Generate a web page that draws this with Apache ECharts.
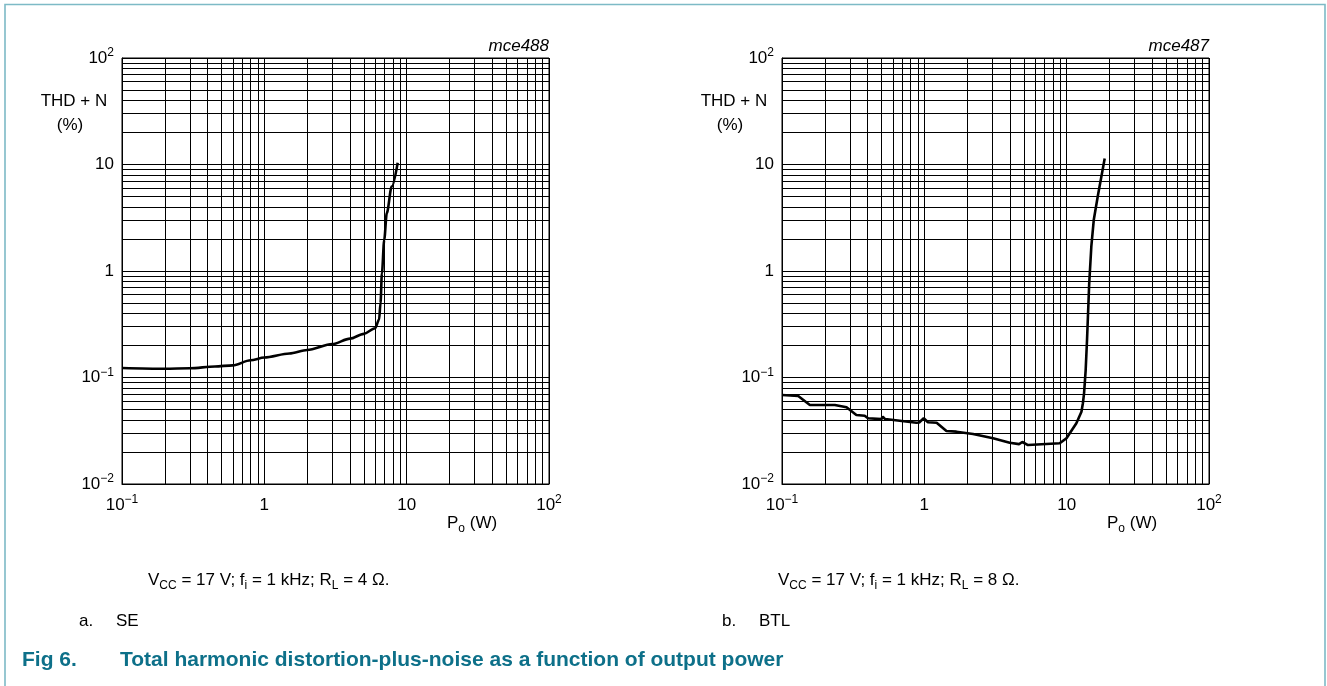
<!DOCTYPE html>
<html><head><meta charset="utf-8">
<script src="https://cdn.jsdelivr.net/npm/echarts/dist/echarts.min.js"></script>
<style>html,body{margin:0;padding:0;background:#fff}#c{width:1327px;height:686px}</style>
</head><body><div id="c"></div>
<script>
// ---- data ----
const seP   = [0.1, 0.2, 0.3, 0.45, 0.6, 0.8, 1, 1.5, 2, 3, 4, 5, 6, 6.4, 6.55, 6.7, 6.95, 7.25, 7.85, 8.65];
const seTHD = [0.123, 0.121, 0.122, 0.127, 0.13, 0.145, 0.154, 0.168, 0.181, 0.206, 0.232, 0.257, 0.29, 0.35, 0.5, 0.95, 1.95, 3.5, 6.2, 10.4];

const btlP   = [0.1, 0.13, 0.157, 0.235, 0.284, 0.333, 0.381, 0.402, 0.5, 0.51, 0.53, 0.672, 0.88, 0.92, 0.99, 1.06, 1.22, 1.43, 1.68, 2.2, 3.04, 3.98, 4.63, 4.88, 5.35, 8.94, 9.97, 11.7, 12.7, 13.0, 13.25, 13.6, 13.9, 14.4, 14.9, 15.5, 16.6, 18.5];
const btlTHD = [0.0686, 0.067, 0.0552, 0.0552, 0.0525, 0.0445, 0.0438, 0.0414, 0.0407, 0.043, 0.0407, 0.0393, 0.0376, 0.0378, 0.0414, 0.038, 0.0376, 0.0315, 0.031, 0.0295, 0.0269, 0.0244, 0.0237, 0.0248, 0.0232, 0.0241, 0.0269, 0.0372, 0.0477, 0.0573, 0.071, 0.1175, 0.225, 0.766, 1.69, 3.01, 5.17, 11.4];

const xTickExp    = [-1, 0, 1, 2];
const xTickLabels = ['10{sup|\u22121}', '1', '10', '10{sup|2}'];
const yTickExp    = [-2, -1, 0, 1, 2];
const yTickLabels = ['10{sup|\u22122}', '10{sup|\u22121}', '1', '10', '10{sup|2}'];

const minorX = [0.2,0.3,0.4,0.5,0.6,0.7,0.8,0.9, 2,3,4,5,6,7,8,9, 20,30,40,50,60,70,80,90];
const minorY = [0.02,0.03,0.04,0.05,0.06,0.07,0.08,0.09, 0.2,0.3,0.4,0.5,0.6,0.7,0.8,0.9, 2,3,4,5,6,7,8,9, 20,30,40,50,60,70,80,90];

// ---- chart ----
const FONT = "'Liberation Sans', Arial, Helvetica, sans-serif";
const FS = 17;
const richTick = {
  sup: { fontSize: 12, lineHeight: 12, verticalAlign: 'top', fontFamily: FONT, color: '#000' }
};
function fmtX(v) { const e = Math.round(Math.log10(v)); const i = xTickExp.indexOf(e); return i >= 0 ? xTickLabels[i] : ''; }
function fmtY(v) { const e = Math.round(Math.log10(v)); const i = yTickExp.indexOf(e); return i >= 0 ? yTickLabels[i] : ''; }

const grids = [
  { left: 122, top: 58, width: 427, height: 426, show: true, borderColor: '#000', borderWidth: 1, backgroundColor: 'transparent' },
  { left: 782, top: 58, width: 427, height: 426, show: true, borderColor: '#000', borderWidth: 1, backgroundColor: 'transparent' }
];
function xAx(g) {
  return {
    type: 'log', logBase: 10, min: 0.1, max: 100, gridIndex: g,
    axisLine: { show: true, lineStyle: { color: '#000', width: 1 } },
    axisTick: { show: false },
    splitLine: { show: true, lineStyle: { color: '#000', width: 1 } },
    axisLabel: { show: true, formatter: fmtX, color: '#000', fontSize: FS, fontFamily: FONT, margin: 10, lineHeight: 22, rich: richTick, showMinLabel: true, showMaxLabel: true }
  };
}
function yAx(g) {
  return {
    type: 'log', logBase: 10, min: 0.01, max: 100, gridIndex: g,
    axisLine: { show: true, lineStyle: { color: '#000', width: 1 } },
    axisTick: { show: false },
    splitLine: { show: true, lineStyle: { color: '#000', width: 1 } },
    axisLabel: { show: true, formatter: fmtY, color: '#000', fontSize: FS, fontFamily: FONT, margin: 8, lineHeight: 22, rich: richTick, showMinLabel: true, showMaxLabel: true }
  };
}
function minorLines() {
  const d = [];
  minorX.forEach(v => d.push({ xAxis: v }));
  minorY.forEach(v => d.push({ yAxis: v }));
  return {
    silent: true, symbol: ['none', 'none'], animation: false,
    label: { show: false },
    lineStyle: { color: '#000', width: 1, type: 'solid', opacity: 1 },
    emphasis: { disabled: true },
    data: d
  };
}
function curve(P, T, g, smooth) {
  return {
    type: 'line', xAxisIndex: g, yAxisIndex: g,
    data: P.map((p, i) => [p, T[i]]),
    showSymbol: false, symbol: 'none',
    smooth: smooth, smoothMonotone: smooth ? 'x' : undefined,
    lineStyle: { color: '#000', width: 2.6 },
    itemStyle: { color: '#000' },
    emphasis: { disabled: true },
    animation: false, z: 5,
    markLine: minorLines()
  };
}

const richBody = {
  sub: { fontSize: 12, lineHeight: 12, verticalAlign: 'bottom', fontFamily: FONT, fill: '#000', color: '#000' }
};
function rtxt(x, y, text, align) {
  return { type: 'text', x: x, y: y, silent: true,
    style: { text: text, fontSize: FS, fontFamily: FONT, fill: '#000', lineHeight: 24, align: align || 'left', verticalAlign: 'middle', rich: richBody } };
}

const graphic = [
  { type: 'polyline', silent: true, shape: { points: [[5, 686], [5, 4.5], [1325, 4.5], [1325, 686]] }, style: { stroke: '#7dbac6', lineWidth: 1.6, fill: null } },
  // left panel texts
  rtxt(122 - 48, 101, 'THD + N', 'center'),
  rtxt(122 - 52, 125, '(%)', 'center'),
  { type: 'text', x: 549, y: 46, silent: true, style: { text: 'mce488', fontSize: FS, fontStyle: 'italic', fontFamily: FONT, fill: '#000', align: 'right', verticalAlign: 'middle' } },
  rtxt(447, 523, 'P{sub|o} (W)'),
  rtxt(148, 580, 'V{sub|CC} = 17 V; f{sub|i} = 1 kHz; R{sub|L} = 4 \u03A9.'),
  rtxt(79, 621, 'a.'),
  rtxt(116, 621, 'SE'),
  // right panel texts
  rtxt(782 - 48, 101, 'THD + N', 'center'),
  rtxt(782 - 52, 125, '(%)', 'center'),
  { type: 'text', x: 1209, y: 46, silent: true, style: { text: 'mce487', fontSize: FS, fontStyle: 'italic', fontFamily: FONT, fill: '#000', align: 'right', verticalAlign: 'middle' } },
  rtxt(1107, 523, 'P{sub|o} (W)'),
  rtxt(778, 580, 'V{sub|CC} = 17 V; f{sub|i} = 1 kHz; R{sub|L} = 8 \u03A9.'),
  rtxt(722, 621, 'b.'),
  rtxt(759, 621, 'BTL'),
  // figure caption
  { type: 'text', x: 22, y: 660, silent: true, style: { text: 'Fig 6.', fontSize: 21, fontWeight: 'bold', fontFamily: FONT, fill: '#0d7089', verticalAlign: 'middle' } },
  { type: 'text', x: 120, y: 660, silent: true, style: { text: 'Total harmonic distortion-plus-noise as a function of output power', fontSize: 21, fontWeight: 'bold', fontFamily: FONT, fill: '#0d7089', verticalAlign: 'middle' } }
];

const chart = echarts.init(document.getElementById('c'), null, { renderer: 'canvas' });
chart.setOption({
  animation: false,
  backgroundColor: '#fff',
  grid: grids,
  xAxis: [xAx(0), xAx(1)],
  yAxis: [yAx(0), yAx(1)],
  series: [curve(seP, seTHD, 0, 0.3), curve(btlP, btlTHD, 1, false)],
  graphic: graphic
});
</script>
</body></html>
